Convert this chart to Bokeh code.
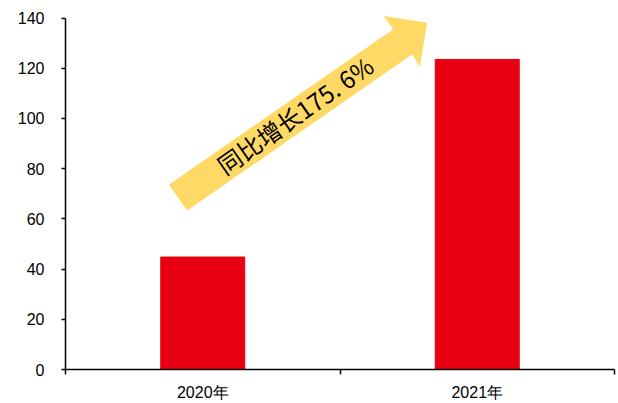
from bokeh.plotting import figure
from bokeh.models import Range1d, FixedTicker, ColumnDataSource
from bokeh.core.properties import value
from bokeh.embed import file_html
from bokeh.resources import INLINE

# Data
years = ["2020年", "2021年"]
amounts = [44.8, 123.5]
growth_label = "同比增长175. 6%"
y_ticks = [0, 20, 40, 60, 80, 100, 120, 140]

bar_color = "#E60012"
arrow_color = "#FFD966"

x_pos = [i + 0.5 for i in range(len(years))]

p = figure(width=618, height=403, output_backend="svg", toolbar_location=None,
           x_range=Range1d(0, len(years)), y_range=Range1d(0, 141),
           min_border_left=65, min_border_right=4, min_border_top=15, min_border_bottom=34)
p.outline_line_color = None
p.xgrid.visible = False
p.ygrid.visible = False

src = ColumnDataSource(dict(x=x_pos, top=amounts))
p.vbar(x="x", top="top", width=0.306, bottom=0, source=src, color=bar_color)

# Arrow annotation (data coordinates)
ax = [0.3763, 1.1938, 1.1596, 1.3176, 1.2908, 1.2630, 0.4434]
ay = [73.6, 135.5, 140.8, 138.1, 120.6, 125.6, 63.3]
p.patch(ax, ay, fill_color=arrow_color, line_color=None)
p.text(x=[0.835], y=[101.5], text=[growth_label], angle=0.611,
       text_align="center", text_baseline="middle",
       text_font=value("Noto Sans CJK SC"), text_font_size="24px", text_color="black")

# Y axis
p.yaxis.ticker = FixedTicker(ticks=y_ticks)
p.yaxis.bounds = (0, 140)
p.yaxis.axis_line_color = "black"
p.yaxis.axis_line_width = 1.5
p.yaxis.major_tick_out = 4
p.yaxis.major_tick_in = 0
p.yaxis.major_tick_line_width = 1.5
p.yaxis.minor_tick_line_color = None
p.yaxis.major_label_standoff = 17
p.yaxis.major_label_text_font = "Liberation Sans"
p.yaxis.major_label_text_font_size = "16px"
p.yaxis.major_label_text_color = "black"

# X axis: labels at category centres, tick marks at category boundaries
p.xaxis.ticker = FixedTicker(ticks=x_pos, minor_ticks=[float(i) for i in range(len(years) + 1)])
p.xaxis.major_label_overrides = {x: y for x, y in zip(x_pos, years)}
p.xaxis.axis_line_color = "black"
p.xaxis.axis_line_width = 1.5
p.xaxis.major_tick_line_color = None
p.xaxis.major_tick_out = 0
p.xaxis.major_tick_in = 0
p.xaxis.minor_tick_out = 5
p.xaxis.minor_tick_in = 0
p.xaxis.minor_tick_line_width = 1.5
p.xaxis.minor_tick_line_color = "black"
p.xaxis.major_label_standoff = 9
p.xaxis.major_label_text_font = "Liberation Sans"
p.xaxis.major_label_text_font_size = "16px"
p.xaxis.major_label_text_color = "black"

open("out.html", "w").write(file_html(p, INLINE))
